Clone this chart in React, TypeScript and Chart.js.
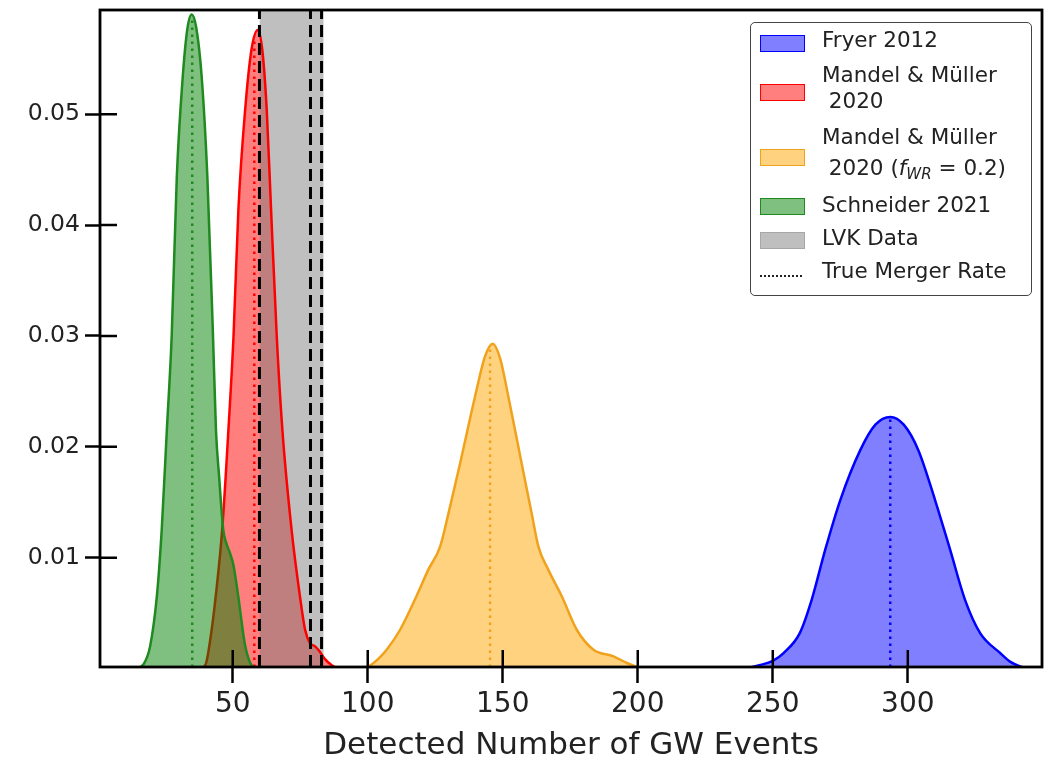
import React, { useEffect, useRef } from 'react';
import { Chart, registerables } from 'chart.js';

Chart.register(...registerables);

// ---- axis ranges & ticks ----
const X_MIN = 0.85;
const X_MAX = 349.7;
const Y_MIN = 0.00014;
const Y_MAX = 0.0594;
const xTicks = [50, 100, 150, 200, 250, 300];
const yTicks = [0.01, 0.02, 0.03, 0.04, 0.05];
const xTitle = 'Detected Number of GW Events';

// ---- KDE curves (x = detected events, y = density) ----
const fryerX = [240, 245, 250, 254, 260, 264.4, 269.4, 275, 282.4, 288, 293.5, 298.5, 303.9, 310.1, 315.7, 321.2, 326.8, 334.2, 338, 341.6, 345];
const fryerY = [0, 0.0003, 0.0007, 0.0014, 0.0032, 0.0062, 0.0107, 0.0152, 0.0197, 0.0220, 0.0227, 0.0220, 0.0197, 0.0152, 0.0107, 0.0062, 0.0032, 0.0014, 0.0006, 0.0002, 0];

const mandelX = [38, 40, 42.2, 43.7, 46.1, 48.4, 50.3, 52.1, 54.6, 57, 59.3, 61, 62.6, 64.2, 66.3, 68.4, 71.8, 74.9, 76.8, 78.6, 80.5, 82, 84, 86.7, 89];
const mandelY = [0, 0.0004, 0.0035, 0.0065, 0.0125, 0.0215, 0.030, 0.0414, 0.0504, 0.0559, 0.0576, 0.0557, 0.0504, 0.0414, 0.030, 0.0215, 0.0125, 0.0065, 0.0035, 0.0023, 0.0020, 0.0016, 0.0009, 0.0003, 0];

const mandelWRX = [98, 101, 104, 107, 112, 118, 122.4, 126.8, 129.9, 134.2, 139.7, 143.5, 146.3, 149, 152.1, 157, 160.7, 163.2, 166.9, 171.9, 177.4, 183.6, 191, 196, 200];
const mandelWRY = [0, 0.0003, 0.0009, 0.0017, 0.0035, 0.0065, 0.0089, 0.011, 0.014, 0.0185, 0.0245, 0.0282, 0.0293, 0.0280, 0.0245, 0.0185, 0.014, 0.011, 0.0089, 0.0065, 0.0035, 0.0017, 0.0011, 0.0005, 0.0001];

const schneiderX = [14, 17, 19.4, 21.9, 23.7, 25.6, 27.4, 29.3, 31.5, 33.2, 34.8, 36.5, 38.5, 40.6, 42.7, 43.8, 45, 46.5, 47.5, 49, 50.2, 52, 54.5, 56.5, 58, 60];
const schneiderY = [0, 0.0004, 0.002, 0.0065, 0.0125, 0.0215, 0.030, 0.0444, 0.0534, 0.0577, 0.0590, 0.0578, 0.0534, 0.0444, 0.030, 0.0215, 0.0172, 0.0125, 0.0114, 0.0104, 0.0094, 0.0066, 0.0022, 0.0005, 0.0001, 0];

// ---- true merger rates (dotted) ----
const trueRateX = [293.5, 58.0, 145.3, 35.0];
const trueRateTop = [0.0226, 0.0570, 0.0290, 0.0588];

// ---- LVK data ----
const lvkBand = [59.9, 83.7];
const lvkLines = [59.9, 78.8, 82.9];

// ---- legend ----
const legendLabels = ['Fryer 2012', 'Mandel & Müller\n 2020', 'Mandel & Müller\n 2020 (f_WR = 0.2)', 'Schneider 2021', 'LVK Data', 'True Merger Rate'];

const seriesStyle = [
  { line: '#0000ff', fill: 'rgba(0,0,255,0.5)' },
  { line: '#ff0000', fill: 'rgba(255,0,0,0.5)' },
  { line: '#f0a21c', fill: 'rgba(255,165,0,0.5)' },
  { line: '#1f8a1f', fill: 'rgba(0,128,0,0.5)' },
];
const lvkFill = 'rgba(128,128,128,0.5)';

const pts = (xs: number[], ys: number[]) => xs.map((x, i) => ({ x, y: ys[i] }));

const framePlugin = {
  id: 'frame',
  afterDatasetsDraw(chart: any) {
    const { ctx, chartArea: a, scales } = chart;
    ctx.save();
    ctx.strokeStyle = '#000';
    ctx.lineWidth = 2.8;
    ctx.strokeRect(a.left, a.top, a.right - a.left, a.bottom - a.top);
    ctx.lineWidth = 2.5;
    ctx.beginPath();
    for (const v of xTicks) {
      const px = scales.x.getPixelForValue(v);
      ctx.moveTo(px, a.bottom);
      ctx.lineTo(px, a.bottom - 17);
    }
    for (const v of yTicks) {
      const py = scales.y.getPixelForValue(v);
      ctx.moveTo(a.left, py);
      ctx.lineTo(a.left + 17, py);
    }
    ctx.stroke();
    ctx.restore();
  },
};

export default function App() {
  const ref = useRef<HTMLCanvasElement | null>(null);

  useEffect(() => {
    if (!ref.current) return;
    const curves = [
      pts(fryerX, fryerY),
      pts(mandelX, mandelY),
      pts(mandelWRX, mandelWRY),
      pts(schneiderX, schneiderY),
    ];
    const datasets: any[] = [];
    // fills (higher order drawn first)
    curves.forEach((data, i) => {
      datasets.push({
        label: legendLabels[i] + ' fill',
        data,
        borderColor: 'rgba(0,0,0,0)',
        backgroundColor: seriesStyle[i].fill,
        borderWidth: 0,
        fill: 'origin',
        pointRadius: 0,
        cubicInterpolationMode: 'monotone',
        order: 40 - 2 * i,
      });
      datasets.push({
        label: legendLabels[i],
        data,
        borderColor: seriesStyle[i].line,
        borderWidth: 2.5,
        fill: false,
        pointRadius: 0,
        cubicInterpolationMode: 'monotone',
        order: 39 - 2 * i - (i === 1 ? 0.5 : 0),
      });
    });
    // LVK band: over the red fill, under the red line
    datasets.push({
      label: 'LVK Data',
      data: lvkBand.map((x) => ({ x, y: Y_MAX })),
      borderWidth: 0,
      borderColor: 'rgba(0,0,0,0)',
      backgroundColor: lvkFill,
      fill: 'start',
      pointRadius: 0,
      order: 37.5,
    });
    lvkLines.forEach((x, i) => {
      datasets.push({
        label: 'lvk' + i,
        data: [{ x, y: Y_MIN }, { x, y: Y_MAX }],
        borderColor: '#000',
        borderWidth: 3,
        borderDash: [12, 6],
        pointRadius: 0,
        fill: false,
        order: 12,
      });
    });
    trueRateX.forEach((x, i) => {
      datasets.push({
        label: 'true' + i,
        data: [{ x, y: Y_MIN }, { x, y: trueRateTop[i] }],
        borderColor: seriesStyle[i].line,
        borderWidth: 2.5,
        borderDash: [2.5, 4.5],
        pointRadius: 0,
        fill: false,
        order: 5,
      });
    });

    const chart = new Chart(ref.current, {
      type: 'line',
      data: { datasets },
      options: {
        animation: false,
        responsive: false,
        devicePixelRatio: 1,
        layout: { padding: { top: 10, right: 6, left: 0, bottom: 0 } },
        plugins: { legend: { display: false }, tooltip: { enabled: false } },
        scales: {
          x: {
            type: 'linear',
            min: X_MIN,
            max: X_MAX,
            afterBuildTicks: (axis: any) => {
              axis.ticks = xTicks.map((v) => ({ value: v }));
            },
            afterFit: (scale: any) => {
              scale.height = 91;
              scale.paddingLeft = 0;
              scale.paddingRight = 0;
            },
            border: { display: false },
            grid: { display: true, drawOnChartArea: false, drawTicks: true, tickLength: 16, tickWidth: 2.5, tickColor: '#000' },
            ticks: {
              color: '#222',
              font: { family: 'DejaVu Sans', size: 28 },
              padding: 5,
              maxRotation: 0,
              autoSkip: false,
              callback: (v: any) => String(v),
            },
            title: {
              display: true,
              text: xTitle,
              color: '#222',
              font: { family: 'DejaVu Sans', size: 31, lineHeight: 0.7 },
              padding: { top: 0, bottom: 1 },
            },
          },
          y: {
            type: 'linear',
            min: Y_MIN,
            max: Y_MAX,
            afterBuildTicks: (axis: any) => {
              axis.ticks = yTicks.map((v) => ({ value: v }));
            },
            afterFit: (scale: any) => {
              scale.width = 100;
              scale.paddingTop = 0;
              scale.paddingBottom = 0;
            },
            border: { display: false },
            grid: { display: true, drawOnChartArea: false, drawTicks: true, tickLength: 15, tickWidth: 2.5, tickColor: '#000' },
            ticks: {
              color: '#222',
              font: { family: 'DejaVu Sans', size: 23.5 },
              padding: 5,
              autoSkip: false,
              callback: (v: any) => Number(v).toFixed(2),
            },
          },
        },
      },
      plugins: [framePlugin],
    } as any);
    return () => chart.destroy();
  }, []);

  const swatches = [
    { top: 11.5, fill: seriesStyle[0].fill, line: seriesStyle[0].line },
    { top: 61, fill: seriesStyle[1].fill, line: seriesStyle[1].line },
    { top: 125.5, fill: seriesStyle[2].fill, line: seriesStyle[2].line },
    { top: 174.5, fill: seriesStyle[3].fill, line: seriesStyle[3].line },
    { top: 208.5, fill: lvkFill, line: 'rgba(150,150,150,0.6)' },
  ];
  const lineTops = [
    [18.7],
    [53, 79.7],
    [115, 146],
    [183],
    [216],
    [249.7],
  ];

  const renderText = (t: string) => {
    if (t.includes('f_WR')) {
      const [pre, post] = t.split('f_WR');
      return (
        <>
          {pre}
          <i>f</i>
          <sub style={{ fontSize: '0.7em', verticalAlign: '-0.25em' }}>
            <i>WR</i>
          </sub>
          {post}
        </>
      );
    }
    return t;
  };

  return (
    <div style={{ position: 'absolute', left: 0, top: 0, width: 1048, height: 758, background: '#fff' }}>
      <canvas ref={ref} width={1048} height={758} style={{ display: 'block' }} />
      <div
        style={{
          position: 'absolute',
          left: 750,
          top: 22,
          width: 282,
          height: 274,
          border: '1.5px solid #444',
          borderRadius: 5,
          background: 'rgba(255,255,255,0.85)',
          boxSizing: 'border-box',
          fontFamily: 'DejaVu Sans',
          fontSize: 21.5,
          color: '#222',
        }}
      >
        {swatches.map((s, i) => (
          <div
            key={'s' + i}
            style={{
              position: 'absolute',
              left: 8.5,
              top: s.top,
              width: 45,
              height: 17,
              background: s.fill,
              border: '1.5px solid ' + s.line,
              boxSizing: 'border-box',
            }}
          />
        ))}
        <div
          style={{
            position: 'absolute',
            left: 8.5,
            top: 251.5,
            width: 42,
            height: 0,
            borderTop: '2.5px dotted #222',
          }}
        />
        {legendLabels.map((lab, i) =>
          lab.split('\n').map((ln, j) => (
            <div
              key={'t' + i + '_' + j}
              style={{
                position: 'absolute',
                left: 71,
                top: lineTops[i][j] - 13 - 1.5,
                height: 26,
                lineHeight: '26px',
                whiteSpace: 'pre',
              }}
            >
              {renderText(ln)}
            </div>
          ))
        )}
      </div>
    </div>
  );
}
